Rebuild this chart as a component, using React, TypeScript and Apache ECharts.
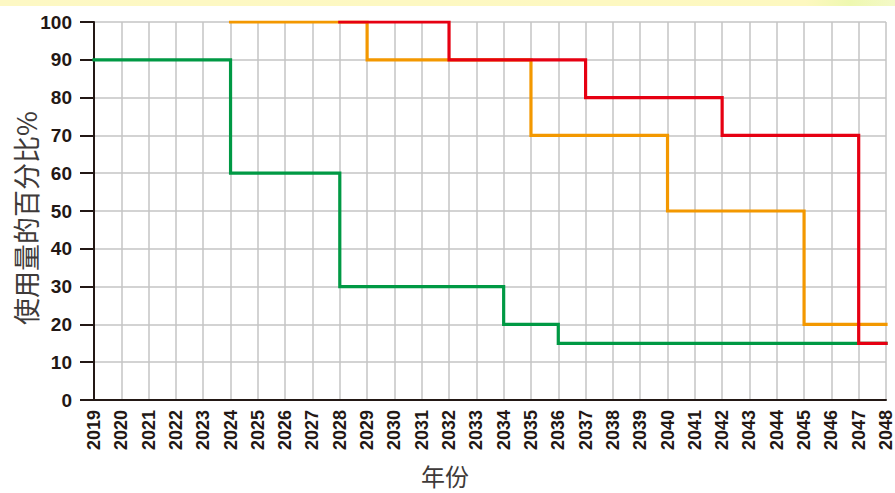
import React, { useEffect, useRef } from "react";
import * as echarts from "echarts";

const years: string[] = [];
for (let y = 2019; y <= 2048; y++) years.push(String(y));

// values per year (null = no line)
const greenValues = [
  90, 90, 90, 90, 90, // 2019-2023
  60, 60, 60, 60, // 2024-2027
  30, 30, 30, 30, 30, 30, // 2028-2033
  20, 20, // 2034-2035
  15, 15, 15, 15, 15, 15, 15, 15, 15, 15, 15, 15, // 2036-2047
  null, // 2048
];
const orangeValues = [
  null, null, null, null, null, // 2019-2023
  100, 100, 100, 100, 100, // 2024-2028
  90, 90, 90, 90, 90, 90, // 2029-2034
  70, 70, 70, 70, 70, // 2035-2039
  50, 50, 50, 50, 50, // 2040-2044
  20, 20, 20, 20, // 2045-2048
];
const redValues = [
  null, null, null, null, null, null, null, null, null, // 2019-2027
  100, 100, 100, 100, // 2028-2031
  90, 90, 90, 90, 90, // 2032-2036
  80, 80, 80, 80, 80, // 2037-2041
  70, 70, 70, 70, 70, // 2042-2046
  15, 15, // 2047-2048
];

const yTicks = [0, 100, 10]; // min, max, interval
const xTitle = "年份";
const yTitle = "使用量的百分比%";

const LABEL_FONT = "'Liberation Sans Narrow', 'Liberation Sans', Arial, sans-serif";
const CJK_FONT = "'Noto Sans CJK SC', 'Noto Sans', sans-serif";

export default function App() {
  const ref = useRef<HTMLDivElement>(null);
  useEffect(() => {
    if (!ref.current) return;
    const chart = echarts.init(ref.current, undefined, { renderer: "svg" });
    const mkSeries = (name: string, data: (number | null)[], color: string) => ({
      name,
      type: "line",
      step: "end",
      data,
      symbol: "none",
      connectNulls: false,
      lineStyle: { color, width: 3.2, cap: "square", join: "miter" },
      itemStyle: { color },
    });
    chart.setOption({
      animation: false,
      backgroundColor: "#ffffff",
      graphic: [
        {
          type: "rect",
          left: 0,
          top: 0,
          shape: { width: 895, height: 6 },
          style: {
            fill: new echarts.graphic.LinearGradient(0, 0, 1, 0, [
              { offset: 0, color: "#fdf8c4" },
              { offset: 0.9, color: "#fdf8c0" },
              { offset: 0.95, color: "#eef8b0" },
              { offset: 1, color: "#f4f9c8" },
            ]),
          },
          silent: true,
        },
        {
          type: "text",
          x: 445,
          y: 475,
          style: {
            text: xTitle,
            fontFamily: CJK_FONT,
            fontSize: 24,
            lineHeight: 26,
            fill: "#3e3a39",
            align: "center",
            verticalAlign: "middle",
          },
          silent: true,
        },
        {
          type: "text",
          x: 25,
          y: 218,
          rotation: Math.PI / 2,
          style: {
            text: yTitle,
            fontFamily: CJK_FONT,
            fontSize: 27,
            fill: "#3e3a39",
            align: "center",
            verticalAlign: "middle",
          },
          silent: true,
        },
      ],
      grid: { left: 94, right: 8, top: 22, bottom: 93, containLabel: false },
      xAxis: {
        type: "category",
        data: years,
        boundaryGap: false,
        axisLine: { lineStyle: { color: "#231815", width: 2 } },
        axisTick: { show: false },
        axisLabel: {
          rotate: 90,
          interval: 0,
          margin: 10,
          fontFamily: LABEL_FONT,
          fontWeight: "bold",
          fontSize: 18,
          color: "#231815",
        },
        splitLine: { show: true, lineStyle: { color: "#c4c4c4", width: 1.5 } },
      },
      yAxis: {
        type: "value",
        min: yTicks[0],
        max: yTicks[1],
        interval: yTicks[2],
        axisLine: { show: true, lineStyle: { color: "#231815", width: 2 } },
        axisTick: { show: true, length: 14, lineStyle: { color: "#231815", width: 2 } },
        axisLabel: {
          margin: 22,
          fontFamily: LABEL_FONT,
          fontWeight: "bold",
          fontSize: 19,
          color: "#231815",
        },
        splitLine: { show: true, lineStyle: { color: "#c4c4c4", width: 1.5 } },
      },
      series: [
        mkSeries("green", greenValues, "#009944"),
        mkSeries("orange", orangeValues, "#f39800"),
        mkSeries("red", redValues, "#e60012"),
      ],
    });
    return () => chart.dispose();
  }, []);
  return <div ref={ref} style={{ width: 895, height: 493, position: "absolute", left: 0, top: 0 }} />;
}
